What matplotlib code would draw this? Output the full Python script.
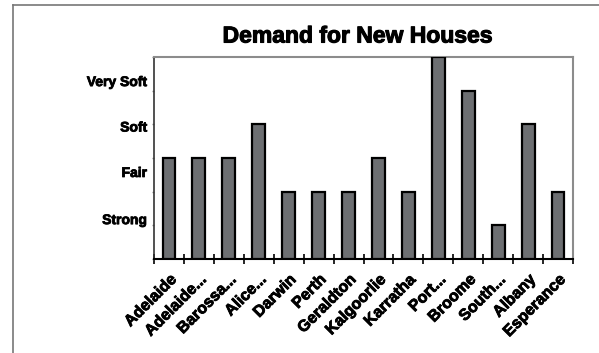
import matplotlib
matplotlib.use("Agg")
import matplotlib.pyplot as plt
from matplotlib.lines import Line2D
import matplotlib.patheffects as pe

categories = ["Adelaide", "Adelaide...", "Barossa...", "Alice...", "Darwin", "Perth",
              "Geraldton", "Kalgoorlie", "Karratha", "Port...", "Broome", "South...",
              "Albany", "Esperance"]
values = [3, 3, 3, 4, 2, 2, 2, 3, 2, 6, 5, 1, 4, 2]
level_labels = ["Strong", "Fair", "Soft", "Very Soft"]
level_label_pos = [1.2, 2.6, 3.95, 5.3]

W, H = 599, 353
fig = plt.figure(figsize=(W/100, H/100), dpi=100)
fig.patch.set_facecolor("white")

L, T, R, B = 154, 57, 573, 259
ax = fig.add_axes([L/W, 1 - B/H, (R-L)/W, (B-T)/H])

x = range(len(categories))
ax.bar(x, values, width=0.43, color="#6d6f72", edgecolor="black", linewidth=1.6, zorder=3)
ax.set_xlim(-0.5, len(categories) - 0.5)
ax.set_ylim(0, 6)

fontfam = ["Liberation Sans", "DejaVu Sans"]
heavy = [pe.withStroke(linewidth=0.6, foreground="black")]

ax.set_xticks([i - 0.5 for i in range(len(categories) + 1)])
ax.set_xticklabels([])
ax.set_xticks(list(x), minor=True)
ax.set_xticklabels(categories, minor=True, rotation=45, ha="right", va="top",
                   rotation_mode="anchor", fontsize=11.5, fontweight="bold", family=fontfam)
for t in ax.get_xticklabels(minor=True):
    t.set_path_effects(heavy)
ax.tick_params(axis="x", which="major", direction="inout", length=7, width=1.2, color="black")
ax.tick_params(axis="x", which="minor", length=0, pad=9)

ax.set_yticks(range(0, 7))
ax.set_yticklabels([])
ax.tick_params(axis="y", which="major", direction="out", length=1.5, width=1, color="#888888")
ax.set_yticks(level_label_pos, minor=True)
ax.set_yticklabels(level_labels, minor=True, fontsize=10, fontweight="bold", family=fontfam)
for t in ax.get_yticklabels(minor=True):
    t.set_path_effects(heavy)
ax.tick_params(axis="y", which="minor", length=0, pad=5)

for s in ["top", "right"]:
    ax.spines[s].set_color("#8c8c8c")
    ax.spines[s].set_linewidth(1.5)
ax.spines["left"].set_color("#333333")
ax.spines["left"].set_linewidth(1.2)
ax.spines["bottom"].set_color("black")
ax.spines["bottom"].set_linewidth(1.5)

fig.text(357/W, 1 - 36/H, "Demand for New Houses", ha="center", va="center",
         fontsize=16.5, fontweight="bold", family=fontfam,
         path_effects=[pe.withStroke(linewidth=0.8, foreground="black")])

fig.add_artist(Line2D([13/W, 13/W], [0, 1 - 5/H], transform=fig.transFigure,
                      color="#777777", linewidth=1.2))
fig.add_artist(Line2D([13/W, 1], [1 - 5/H, 1 - 5/H], transform=fig.transFigure,
                      color="#777777", linewidth=1.2))

fig.savefig("out.png", dpi=100)
